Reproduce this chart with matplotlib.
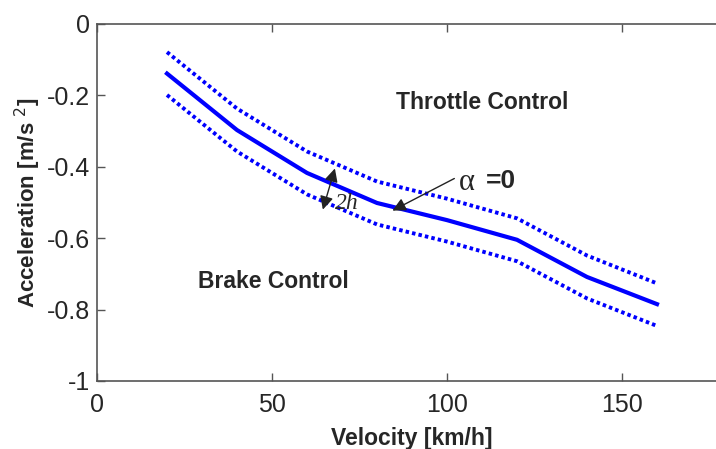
import matplotlib
matplotlib.use("Agg")
import matplotlib.pyplot as plt

plt.rcParams['font.family'] = ['Liberation Sans', 'DejaVu Sans']

velocity = [20, 40, 60, 80, 100, 120, 140, 160]
accel_center = [-0.14, -0.298, -0.418, -0.502, -0.55, -0.605, -0.709, -0.785]
accel_upper = [-0.08, -0.238, -0.358, -0.442, -0.49, -0.545, -0.649, -0.727]
accel_lower = [-0.20, -0.358, -0.478, -0.562, -0.61, -0.665, -0.769, -0.846]
xticks = [0, 50, 100, 150]
yticks = [0, -0.2, -0.4, -0.6, -0.8, -1]
ytick_labels = ['0', '-0.2', '-0.4', '-0.6', '-0.8', '-1']

fig = plt.figure(figsize=(7.16, 4.49), dpi=100)
ax = fig.add_axes([97/716, 68/449, 630/716, 357.5/449])

ax.plot(velocity, accel_center, color='#0000ff', lw=3.0, solid_joinstyle='round')
ax.plot(velocity, accel_upper, color='#0000ff', lw=2.8, linestyle=(0, (0.9, 0.8)))
ax.plot(velocity, accel_lower, color='#0000ff', lw=2.8, linestyle=(0, (0.9, 0.8)))

ax.set_xlim(0, 180)
ax.set_ylim(-1, 0)
ax.set_xticks(xticks)
ax.set_xticklabels([str(t) for t in xticks])
ax.set_yticks(yticks)
ax.set_yticklabels(ytick_labels)
ax.tick_params(direction='in', length=6, width=1, labelsize=18, color='#555555',
               labelcolor='#262626', top=True, right=True)
ax.tick_params(axis='x', pad=9)
ax.tick_params(axis='y', pad=5)
for s in ax.spines.values():
    s.set_color('#555555')
    s.set_linewidth(1.2)

ax.set_xlabel('Velocity [km/h]', fontsize=16.5, fontweight='bold', color='#262626', labelpad=7)
ax.set_ylabel('Acceleration [m/s $^2$]', fontsize=16, fontweight='bold', color='#262626', labelpad=3)

ax.text(110, -0.22, 'Throttle Control', fontsize=16.5, fontweight='bold', color='#262626',
        ha='center', va='center')
ax.text(50.3, -0.723, 'Brake Control', fontsize=16.5, fontweight='bold', color='#262626',
        ha='center', va='center')

# alpha = 0 annotation
ax.annotate('', xy=(83.7, -0.527), xytext=(102.8, -0.43),
            arrowprops=dict(arrowstyle='-|>', color='#222222', lw=1, mutation_scale=20))
ax.text(103.5, -0.445, 'α', fontsize=22, family=['Liberation Serif', 'DejaVu Serif'],
        color='#262626', ha='left', va='center')
ax.text(111, -0.44, '=0', fontsize=19, fontweight='bold', color='#262626',
        ha='left', va='center')

# 2h double arrow
ax.annotate('', xy=(68.2, -0.398), xytext=(64.3, -0.528),
            arrowprops=dict(arrowstyle='<|-|>', color='#222222', lw=1, mutation_scale=20))
ax.text(68, -0.503, '2h', fontsize=17, style='italic', family=['Liberation Serif', 'DejaVu Serif'],
        color='#262626', ha='left', va='center')

fig.savefig('out.png', dpi=100)
